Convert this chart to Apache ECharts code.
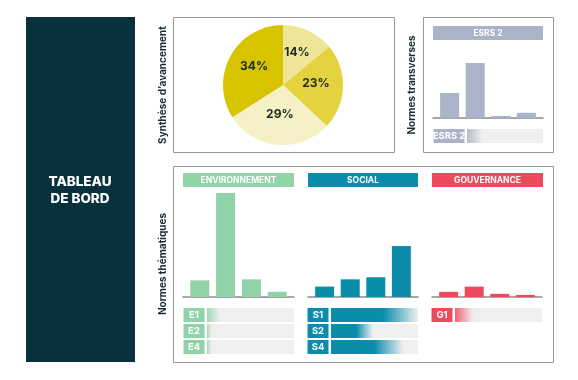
<!DOCTYPE html>
<html><head><meta charset="utf-8">
<script src="https://cdn.jsdelivr.net/npm/echarts@6/dist/echarts.min.js"></script>
<style>html,body{margin:0;padding:0;background:#fff}#c{width:578px;height:380px}</style>
</head><body><div id="c"></div>
<script>
// ---- data ----
var pieLabels = ['A', 'B', 'C', 'D'];
var pieValues = [14, 23, 29, 34];
var groups = ['ENVIRONNEMENT', 'SOCIAL', 'GOUVERNANCE'];
var transverseTitle = 'ESRS 2';
var esrsBars = [24, 53, 2, 5];
var envBars = [16, 100, 17, 5];
var socBars = [10, 17, 19, 49];
var govBars = [5, 10, 3, 2];
var esrsCats = ['ESRS 2'];
var esrsProgress = [21];
var envCats = ['E1', 'E2', 'E4'];
var envProgress = [15, 5, 5];
var socCats = ['S1', 'S2', 'S4'];
var socProgress = [100, 48, 83];
var govCats = ['G1'];
var govProgress = [21];

var FONT = 'Inter, "Open Sans", sans-serif';
var C_ESRS = '#a9b4c8', C_ENV = '#91d3a8', C_SOC = '#0b8cab', C_GOV = '#ee4a5d';
var pieColors = ['#efe598', '#e4d23f', '#f5f0c6', '#d7c300'];

function rgba(hex, a) {
  var n = parseInt(hex.slice(1), 16);
  return 'rgba(' + (n >> 16) + ',' + ((n >> 8) & 255) + ',' + (n & 255) + ',' + a + ')';
}
function fade(hex, v) {
  var solid = v > 40 ? 0.6 : 0.0;
  return new echarts.graphic.LinearGradient(0, 0, 1, 0, [
    { offset: 0, color: rgba(hex, v > 40 ? 1 : 0.85) },
    { offset: solid, color: rgba(hex, v > 40 ? 1 : 0.85) },
    { offset: 1, color: rgba(hex, 0) }
  ]);
}

var chart = echarts.init(document.getElementById('c'), null, { renderer: 'canvas' });

var grids = [], xAxes = [], yAxes = [], series = [];

function addBars(left, width, values, color) {
  var gi = grids.length;
  grids.push({ left: left, top: (gi === 0 ? 14 : 193), width: width, height: 104 });
  xAxes.push({ gridIndex: gi, type: 'value', min: -0.65, max: 3.65,
    axisLine: { show: true, onZero: true, lineStyle: { color: '#8a8a8a', width: 1.5 } },
    axisTick: { show: false }, axisLabel: { show: false }, splitLine: { show: false } });
  yAxes.push({ gridIndex: gi, type: 'value', min: 0, max: 100, show: false, splitLine: { show: false } });
  series.push({ type: 'bar', xAxisIndex: gi, yAxisIndex: gi, barWidth: 19, silent: true,
    itemStyle: { color: color },
    data: values.map(function (v, i) { return [i, v]; }) });
}
function addProgress(left, top, width, cats, values, color, labW) {
  var gi = grids.length;
  grids.push({ left: left, top: top, width: width, height: 16 * cats.length });
  xAxes.push({ gridIndex: gi, type: 'value', min: 0, max: 100, show: false, splitLine: { show: false } });
  yAxes.push({ gridIndex: gi, type: 'category', inverse: true, data: cats,
    axisLine: { show: false }, axisTick: { show: false },
    axisLabel: { margin: 2.5, formatter: function (v) { return '{b|' + v + '}'; },
      rich: { b: { backgroundColor: color, color: '#fff', width: labW, height: 14, lineHeight: 14,
        align: 'center', verticalAlign: 'middle', fontWeight: 'bold', fontSize: 9.5, fontFamily: FONT } } } });
  series.push({ type: 'bar', xAxisIndex: gi, yAxisIndex: gi, barWidth: 14, silent: true,
    showBackground: true, backgroundStyle: { color: '#efefef' },
    data: values.map(function (v) { return { value: v, itemStyle: { color: fade(color, v) } }; }) });
}

addBars(433, 110, esrsBars, C_ESRS);
addBars(183, 111, envBars, C_ENV);
addBars(308, 110, socBars, C_SOC);
addBars(432, 110, govBars, C_GOV);
addProgress(467, 128, 76, esrsCats, esrsProgress, C_ESRS, 31);
addProgress(207, 307, 87, envCats, envProgress, C_ENV, 21);
addProgress(331, 307, 87, socCats, socProgress, C_SOC, 21);
addProgress(455, 307, 87, govCats, govProgress, C_GOV, 21);

series.push({ type: 'pie', center: [283, 85], radius: [0, 60], startAngle: 90, clockwise: true,
  silent: true, animation: false,
  label: { position: 'inside', formatter: '{c}%', color: '#1f2a20', fontWeight: 'bold', fontSize: 12, fontFamily: FONT },
  labelLine: { show: false },
  labelLayout: { dy: -3 },
  itemStyle: { borderWidth: 0 },
  data: pieValues.map(function (v, i) { return { name: pieLabels[i], value: v, itemStyle: { color: pieColors[i] } }; }) });

function box(x, y, w, h) {
  return { type: 'rect', shape: { x: x + 0.5, y: y + 0.5, width: w, height: h },
    style: { fill: 'none', stroke: '#999', lineWidth: 1 }, z: -1 };
}
function vtext(x, y, t) {
  return { type: 'text', x: x, y: y, rotation: Math.PI / 2,
    style: { text: t, fill: '#1b2a33', font: 'bold 10px ' + FONT, align: 'center', verticalAlign: 'middle' } };
}
function header(x, y, w, t, color) {
  return { type: 'group', children: [
    { type: 'rect', shape: { x: x, y: y, width: w, height: 14 }, style: { fill: color } },
    { type: 'text', x: x + w / 2, y: y + 7, style: { text: t, fill: '#fff', font: 'bold 8.5px ' + FONT, align: 'center', verticalAlign: 'middle' } }
  ] };
}

var graphics = [
  { type: 'rect', shape: { x: 26, y: 17, width: 109, height: 345 }, style: { fill: '#08303d' } },
  { type: 'text', x: 80, y: 190, style: { text: 'TABLEAU\nDE BORD', fill: '#fff', font: '800 13.5px ' + FONT, align: 'center', verticalAlign: 'middle', lineHeight: 17 } },
  box(173, 17, 221, 135),
  box(423, 17, 130, 135),
  box(173, 166, 380, 196),
  vtext(163, 85, 'Synthèse d\u2019avancement'),
  vtext(412, 85, 'Normes transverses'),
  vtext(163, 264, 'Normes thématiques'),
  header(433, 26, 110, transverseTitle, C_ESRS),
  header(183, 173, 111, groups[0], C_ENV),
  header(308, 173, 110, groups[1], C_SOC),
  header(432, 173, 111, groups[2], C_GOV)
];

chart.setOption({
  animation: false,
  grid: grids, xAxis: xAxes, yAxis: yAxes, series: series,
  graphic: graphics
});
</script></body></html>
